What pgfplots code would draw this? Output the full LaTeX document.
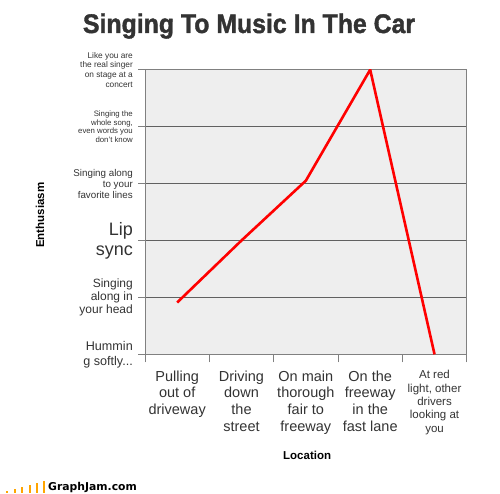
\documentclass[border=0pt]{standalone}
\usepackage{pgfplots}
\pgfplotsset{compat=1.18}
\usepackage{fontspec}
\setmainfont{Liberation Sans}
\newfontfamily\logofont{DejaVu Sans}
\newfontfamily\titlefont{Liberation Sans Bold}[FakeBold=1.5]
\definecolor{txt}{HTML}{333333}
\definecolor{bggray}{HTML}{EEEEEE}
\definecolor{gridgray}{HTML}{606060}
\definecolor{axgray}{HTML}{808080}
\definecolor{logoorange}{HTML}{FFA500}
\newcommand{\fs}[2]{\fontsize{#1}{#2}\selectfont}
\newcommand{\ylab}[3]{\parbox{90pt}{\raggedleft\fs{#1}{#2}#3}}
\newcommand{\xlab}[3]{\parbox{66pt}{\centering\fs{#1}{#2}#3}}
\newcommand{\threedots}{.\kern0pt.\kern0pt.}
\begin{document}
\begin{tikzpicture}[x=1pt,y=1pt]
\useasboundingbox (0,0) rectangle (500,493);
% title
\node[anchor=base, inner sep=0pt, text=txt] at (249,460)
  {\resizebox{332pt}{19.5pt}{\titlefont Singing To Music In The Car}};
\begin{axis}[
  at={(145pt,138.7pt)}, anchor=south west,
  width=321.7pt, height=284.6pt, scale only axis,
  xmin=0.5, xmax=5.5, ymin=0, ymax=5,
  axis background/.style={fill=bggray},
  axis line style={draw=axgray, line width=1pt},
  ymajorgrids, major grid style={draw=gridgray, line width=0.9pt},
  tick align=outside, major tick length=7pt,
  xtick pos=bottom, ytick pos=left,
  ytick={0,1,2,3,4,5},
  ytick style={draw=axgray, line width=1pt},
  yticklabels={
    {\ylab{12.6}{15}{Hummin\\g softly\threedots}},
    {\ylab{12}{13}{Singing\\along in\\your head}},
    {\ylab{18}{20}{Lip\\sync}},
    {\ylab{9.8}{11}{Singing along\\to your\\favorite lines}},
    {\ylab{7.8}{8.7}{Singing the\\whole song,\\even words you\\don't know}},
    {\ylab{8.3}{9.7}{Like you are\\the real singer\\on stage at a\\concert}}},
  yticklabel style={anchor=east, inner sep=0pt, text=txt, xshift=-5pt},
  xtick={1,2,3,4,5},
  xtick style={draw=none},
  xticklabels={
    {\xlab{14.5}{16.7}{Pulling\\out of\\driveway}},
    {\xlab{14.5}{16.7}{Driving\\down\\the\\street}},
    {\xlab{14.5}{16.7}{On main\\thorough\\fair to\\freeway}},
    {\xlab{14.5}{16.7}{On the\\freeway\\in the\\fast lane}},
    {\xlab{11.5}{13.3}{At red\\light, other\\drivers\\looking at\\you}}},
  xticklabel style={anchor=north, inner sep=0pt, text=txt, yshift=-9pt},
  extra x ticks={0.5,1.5,2.5,3.5,4.5,5.5},
  extra x tick labels={},
  extra x tick style={major tick length=8pt, xtick style={draw=axgray, line width=1pt}},
  xlabel={\fs{11.5}{13}\bfseries Location},
  xlabel style={at={(axis description cs:0.504,-0.354)}, anchor=center, inner sep=0pt},
  ylabel={\fs{11.5}{13}\bfseries Enthusiasm},
  ylabel style={at={(axis description cs:-0.326,0.489)}, anchor=center, rotate=0, inner sep=0pt},
]
\addplot[red, line width=2.6pt, no marks] coordinates {(1,0.91) (2,2.0) (3,3.05) (4,5.0) (5,0)};
\end{axis}
% logo
\foreach \xx/\hh in {6/2,13.5/4,21/6,28.5/8,36/10,42.5/12}
  \fill[logoorange] (\xx,0) rectangle (\xx+2.2,\hh);
\node[anchor=base west, inner sep=0pt] at (48,3) {\logofont\fontsize{10.8}{12}\selectfont\bfseries GraphJam.com};
\end{tikzpicture}
\end{document}
